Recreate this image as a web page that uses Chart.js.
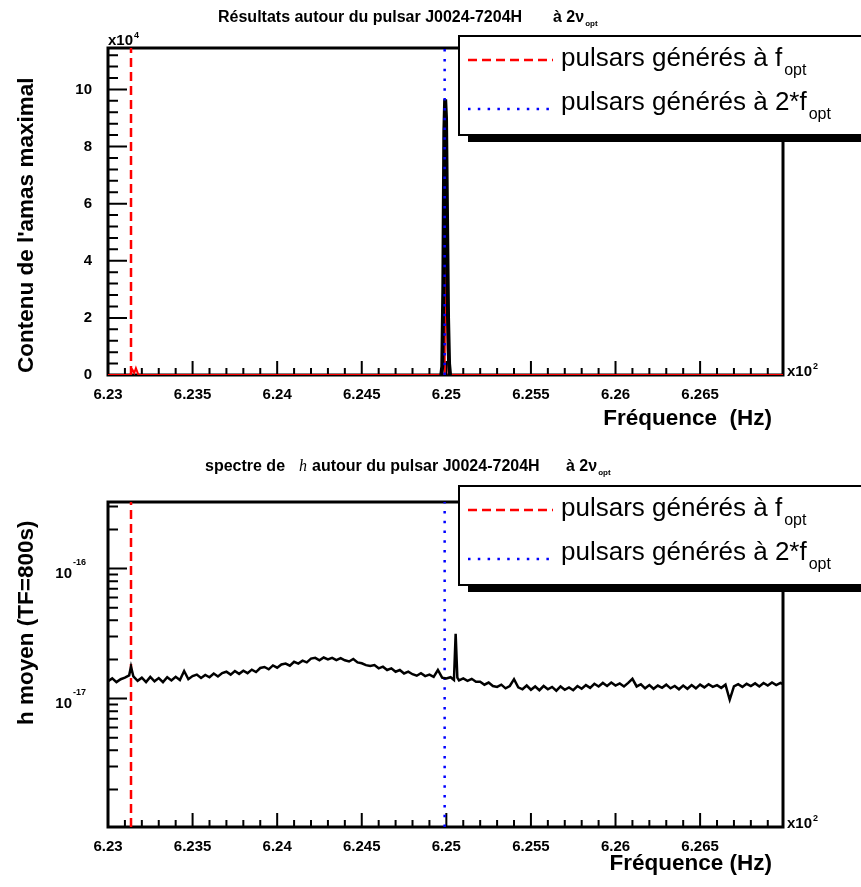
<!DOCTYPE html>
<html>
<head>
<meta charset="utf-8">
<script src="https://cdn.jsdelivr.net/npm/chart.js@4.4.1/dist/chart.umd.min.js"></script>
<style>
html, body { margin: 0; padding: 0; background: #fff; }
#cadre { position: relative; width: 861px; height: 887px; }
canvas { position: absolute; left: 0; }
</style>
</head>
<body>
<div id="cadre">
  <canvas id="haut" width="861" height="440" style="top:0px"></canvas>
  <canvas id="bas" width="861" height="447" style="top:440px"></canvas>
</div>
<script>
// ---- graphe du haut : contenu de l'amas maximal ----
var freqAmasNoir = [624.970, 624.976, 624.982, 624.988, 624.993, 624.998, 625.004, 625.010, 625.016, 625.022];
var amasNoir     = [0, 3000, 30000, 85000, 96500, 90000, 55000, 20000, 4000, 0];
var freqAmasRouge = [623.000, 623.130, 623.145, 623.155, 623.165, 623.180, 624.990, 624.996, 625.002, 625.008, 625.014, 626.990];
var amasRouge     = [0, 0, 1800, 700, 2400, 0, 0, 58000, 40000, 9000, 0, 0];

// ---- graphe du bas : h moyen (TF=800s), en unités de 1e-17 ----
var freqSpectre = [
  623.000, 623.025, 623.050, 623.075, 623.100, 623.125, 623.136, 623.150, 623.175,
  623.200, 623.225, 623.250, 623.275, 623.300, 623.325, 623.350, 623.375, 623.400, 623.425, 623.450, 623.475,
  623.500, 623.525, 623.550, 623.575, 623.600, 623.625, 623.650, 623.675, 623.700, 623.725,
  623.750, 623.775, 623.800, 623.825, 623.850, 623.875, 623.900, 623.925, 623.950, 623.975,
  624.000, 624.025, 624.050, 624.075, 624.100, 624.125, 624.150, 624.175, 624.200, 624.225,
  624.250, 624.275, 624.300, 624.325, 624.350, 624.375, 624.400, 624.425, 624.450, 624.475,
  624.500, 624.525, 624.550, 624.575, 624.600, 624.625, 624.650, 624.675, 624.700, 624.725,
  624.750, 624.775, 624.800, 624.825, 624.850, 624.875, 624.900, 624.925, 624.950, 624.975,
  625.000, 625.025, 625.045, 625.055, 625.065, 625.075, 625.100, 625.125, 625.150, 625.175,
  625.200, 625.225, 625.250, 625.275, 625.300, 625.325, 625.350, 625.375, 625.400, 625.425, 625.450, 625.475,
  625.500, 625.525, 625.550, 625.575, 625.600, 625.625, 625.650, 625.675, 625.700, 625.725,
  625.750, 625.775, 625.800, 625.825, 625.850, 625.875, 625.900, 625.925, 625.950, 625.975,
  626.000, 626.025, 626.050, 626.075, 626.100, 626.125, 626.150, 626.175, 626.200, 626.225,
  626.250, 626.275, 626.300, 626.325, 626.350, 626.375, 626.400, 626.425, 626.450, 626.475,
  626.500, 626.525, 626.550, 626.575, 626.600, 626.625, 626.650, 626.675, 626.700, 626.725,
  626.750, 626.775, 626.800, 626.825, 626.850, 626.875, 626.900, 626.925, 626.950, 626.975, 626.990
];
var hMoyen = [
  1.36, 1.43, 1.34, 1.41, 1.45, 1.51, 1.76, 1.48, 1.37,
  1.45, 1.34, 1.47, 1.36, 1.44, 1.34, 1.46, 1.38, 1.47, 1.39, 1.63, 1.41,
  1.49, 1.53, 1.44, 1.52, 1.46, 1.56, 1.48, 1.57, 1.61, 1.53,
  1.63, 1.55, 1.64, 1.57, 1.67, 1.60, 1.72, 1.75, 1.68, 1.80,
  1.73, 1.83, 1.86, 1.79, 1.92, 1.86, 1.96, 1.90, 2.03, 2.06,
  1.97, 2.07, 2.00, 2.06, 1.98, 2.05, 1.97, 1.93, 2.02, 1.90,
  1.87, 1.81, 1.78, 1.81, 1.71, 1.76, 1.66, 1.71, 1.61, 1.66,
  1.56, 1.61, 1.54, 1.50, 1.57, 1.49, 1.53, 1.47, 1.66, 1.45,
  1.43, 1.46, 1.39, 3.15, 1.45, 1.38, 1.43, 1.37, 1.42, 1.35,
  1.35, 1.28, 1.33, 1.25, 1.23, 1.28, 1.20, 1.25, 1.41, 1.22, 1.18, 1.26,
  1.17, 1.24, 1.16, 1.25, 1.18, 1.23, 1.15, 1.24, 1.17, 1.22,
  1.16, 1.25, 1.19, 1.27, 1.21, 1.30, 1.24, 1.32, 1.25, 1.33,
  1.26, 1.31, 1.24, 1.32, 1.42, 1.24, 1.29, 1.20, 1.27, 1.19,
  1.26, 1.21, 1.28, 1.20, 1.25, 1.18, 1.26, 1.19, 1.27, 1.20,
  1.28, 1.22, 1.29, 1.23, 1.27, 1.21, 1.28, 0.98, 1.24, 1.29,
  1.23, 1.30, 1.25, 1.31, 1.24, 1.32, 1.26, 1.33, 1.27, 1.32, 1.29
];

// lignes verticales : f_opt (rouge) et 2*f_opt (bleu)
var freqLignes = [623.136, 624.990];

// graduations
var ticksX = [623.0, 623.5, 624.0, 624.5, 625.0, 625.5, 626.0, 626.5];
var etiquettesX = ['6.23', '6.235', '6.24', '6.245', '6.25', '6.255', '6.26', '6.265'];
var ticksYHaut = [0, 20000, 40000, 60000, 80000, 100000];
var etiquettesYHaut = ['0', '2', '4', '6', '8', '10'];
var ticksYBas = [1e-17, 1e-16];
var exposantsYBas = ['-17', '-16'];

var legendeTextes = ['pulsars générés à f', 'pulsars générés à 2*f'];

var policeSans = "'Liberation Sans', Arial, Helvetica, sans-serif";
var xMin = 623.0, xMax = 626.99;
var yMaxHaut = 114500;
var yMinBas = 1.03e-18, yMaxBas = 3.25e-16;

function points(xs, ys, facteur) {
  return xs.map(function(x, i) { return {x: x, y: ys[i] * (facteur || 1)}; });
}
function verticale(f, y0, y1) {
  return [{x: f, y: y0}, {x: f, y: y1}];
}
function texte(ctx, str, x, y, taille, gras, align) {
  ctx.font = (gras ? 'bold ' : '') + taille + 'px ' + policeSans;
  ctx.textAlign = align || 'left';
  ctx.textBaseline = 'alphabetic';
  ctx.fillText(str, x, y);
  return ctx.measureText(str).width;
}

function echelleX(hauteur) {
  return {
    type: 'linear', min: xMin, max: xMax,
    grid: {display: false}, border: {display: false},
    afterBuildTicks: function(s) { s.ticks = ticksX.map(function(v) { return {value: v}; }); },
    ticks: {
      autoSkip: false, maxRotation: 0, padding: 3, color: '#000',
      font: {family: policeSans, size: 15, weight: 'bold'},
      callback: function(v, i) { return etiquettesX[i]; }
    },
    afterFit: function(s) { s.height = hauteur; }
  };
}

// graduations internes de l'axe x (à la ROOT)
function ticksInternesX(ctx, sx, bas) {
  ctx.beginPath();
  for (var k = 0; k <= 40; k++) {
    var f = 623 + k * 0.1;
    if (f > xMax) break;
    var px = sx.getPixelForValue(f);
    var long = (k % 5 === 0) ? 14 : 7;
    ctx.moveTo(px, bas);
    ctx.lineTo(px, bas - long);
  }
  ctx.stroke();
}

function dessinerLegende(chart, haut, dsRouge, dsBleu) {
  var ctx = chart.ctx;
  ctx.save();
  ctx.fillStyle = '#000';
  ctx.fillRect(468, haut + 6, 400, 101);
  ctx.fillStyle = '#fff';
  ctx.fillRect(458, haut, 410, 101);
  ctx.strokeStyle = '#000';
  ctx.lineWidth = 2;
  ctx.strokeRect(459, haut + 1, 410, 99);
  var lignes = [[dsRouge, haut + 25, haut + 31], [dsBleu, haut + 74, haut + 75]];
  lignes.forEach(function(l, i) {
    var ds = l[0];
    ctx.strokeStyle = ds.borderColor;
    ctx.lineWidth = ds.borderWidth;
    ctx.setLineDash(ds.borderDash);
    ctx.beginPath();
    ctx.moveTo(468, l[1]);
    ctx.lineTo(553, l[1]);
    ctx.stroke();
    ctx.setLineDash([]);
    ctx.fillStyle = '#000';
    var w = texte(ctx, legendeTextes[i], 561, l[2], 26, false);
    texte(ctx, 'opt', 561 + w + 2, l[2] + 9, 16, false);
  });
  ctx.restore();
}

function titreAxeY(ctx, str, x, y) {
  ctx.save();
  ctx.translate(x, y);
  ctx.rotate(-Math.PI / 2);
  texte(ctx, str, 0, 0, 22.5, true);
  ctx.restore();
}

// ---------------- graphe du haut ----------------
var pluginHaut = {
  id: 'cadreHaut',
  beforeDatasetsDraw: function(chart) {
    var ctx = chart.ctx, a = chart.chartArea, sy = chart.scales.y;
    ctx.save();
    ctx.strokeStyle = '#000';
    ctx.lineWidth = 2;
    ticksInternesX(ctx, chart.scales.x, a.bottom);
    ctx.beginPath();
    for (var k = 0; k * 4000 <= yMaxHaut; k++) {
      var py = sy.getPixelForValue(k * 4000);
      ctx.moveTo(a.left, py);
      ctx.lineTo(a.left + ((k % 5 === 0) ? 19 : 10), py);
    }
    ctx.stroke();
    ctx.lineWidth = 3;
    ctx.strokeRect(a.left, a.top, a.right - a.left, a.bottom - a.top);
    ctx.restore();
  },
  afterDraw: function(chart) {
    var ctx = chart.ctx, a = chart.chartArea;
    ctx.save();
    ctx.fillStyle = '#000';
    texte(ctx, 'Résultats autour du pulsar J0024-7204H', 218, 22, 16, true);
    var w = texte(ctx, 'à 2ν', 553, 22, 16, true);
    texte(ctx, 'opt', 553 + w + 1, 26, 8, true);
    var wx = texte(ctx, 'x10', a.left, a.top - 3, 15, true);
    texte(ctx, '4', a.left + wx + 1, a.top - 10, 9, true);
    wx = texte(ctx, 'x10', a.right + 4, a.bottom + 1, 15, true);
    texte(ctx, '2', a.right + 4 + wx + 1, a.bottom - 6, 9, true);
    texte(ctx, 'Fréquence  (Hz)', 772, 425, 22.5, true, 'right');
    titreAxeY(ctx, "Contenu de l'amas maximal", 33, 373);
    ctx.restore();
    dessinerLegende(chart, 35, chart.data.datasets[2], chart.data.datasets[0]);
  }
};

new Chart(document.getElementById('haut'), {
  type: 'scatter',
  data: {
    datasets: [
      {label: '2*f_opt', data: verticale(freqLignes[1], 0, yMaxHaut), borderColor: '#0000ff', borderWidth: 2.5,
       borderDash: [2.5, 7.3], showLine: true, pointRadius: 0},
      {label: 'amas', data: points(freqAmasNoir, amasNoir), borderColor: '#000000', borderWidth: 4,
       showLine: true, pointRadius: 0},
      {label: 'f_opt', data: verticale(freqLignes[0], 0, yMaxHaut), borderColor: '#ff0000', borderWidth: 2.5,
       borderDash: [9, 5], showLine: true, pointRadius: 0},
      {label: 'amas f_opt', data: points(freqAmasRouge, amasRouge), borderColor: '#ff0000', borderWidth: 2,
       showLine: true, pointRadius: 0}
    ]
  },
  options: {
    responsive: false, animation: false, devicePixelRatio: 1,
    layout: {padding: {top: 48, right: 78, left: 0, bottom: 0}},
    plugins: {legend: {display: false}, tooltip: {enabled: false}},
    scales: {
      x: echelleX(65),
      y: {
        type: 'linear', min: 0, max: yMaxHaut,
        grid: {display: false}, border: {display: false},
        afterBuildTicks: function(s) { s.ticks = ticksYHaut.map(function(v) { return {value: v}; }); },
        ticks: {
          autoSkip: false, padding: 8, color: '#000',
          font: {family: policeSans, size: 15, weight: 'bold'},
          callback: function(v, i) { return etiquettesYHaut[i]; }
        },
        afterFit: function(s) { s.width = 108; }
      }
    }
  },
  plugins: [pluginHaut]
});

// ---------------- graphe du bas ----------------
var pluginBas = {
  id: 'cadreBas',
  beforeDatasetsDraw: function(chart) {
    var ctx = chart.ctx, a = chart.chartArea, sy = chart.scales.y;
    ctx.save();
    ctx.strokeStyle = '#000';
    ctx.lineWidth = 2;
    ticksInternesX(ctx, chart.scales.x, a.bottom);
    ctx.beginPath();
    [-18, -17, -16].forEach(function(e) {
      for (var m = 1; m <= 9; m++) {
        var v = m * Math.pow(10, e);
        if (v < yMinBas || v > yMaxBas) continue;
        var py = sy.getPixelForValue(v);
        ctx.moveTo(a.left, py);
        ctx.lineTo(a.left + (m === 1 ? 19 : 10), py);
      }
    });
    ctx.stroke();
    ctx.lineWidth = 3;
    ctx.strokeRect(a.left, a.top, a.right - a.left, a.bottom - a.top);
    ctx.restore();
  },
  afterDraw: function(chart) {
    var ctx = chart.ctx, a = chart.chartArea, sy = chart.scales.y;
    ctx.save();
    ctx.fillStyle = '#000';
    // étiquettes logarithmiques 10^n
    ticksYBas.forEach(function(v, i) {
      var py = sy.getPixelForValue(v);
      texte(ctx, '10', 72, py + 9, 15, true, 'right');
      texte(ctx, exposantsYBas[i], 73, py - 4, 9, true);
    });
    texte(ctx, 'spectre de', 205, 31, 16, true);
    ctx.font = 'italic 16px "Liberation Serif", "DejaVu Serif", serif';
    ctx.textAlign = 'left';
    ctx.fillText('h', 299, 31);
    texte(ctx, 'autour du pulsar J0024-7204H', 312, 31, 16, true);
    var w = texte(ctx, 'à 2ν', 566, 31, 16, true);
    texte(ctx, 'opt', 566 + w + 1, 35, 8, true);
    var wx = texte(ctx, 'x10', a.right + 4, a.bottom + 1, 15, true);
    texte(ctx, '2', a.right + 4 + wx + 1, a.bottom - 6, 9, true);
    texte(ctx, 'Fréquence (Hz)', 772, 430, 22.5, true, 'right');
    titreAxeY(ctx, 'h moyen (TF=800s)', 33, 285);
    ctx.restore();
    dessinerLegende(chart, 45, chart.data.datasets[2], chart.data.datasets[1]);
  }
};

new Chart(document.getElementById('bas'), {
  type: 'scatter',
  data: {
    datasets: [
      {label: 'h moyen', data: points(freqSpectre, hMoyen, 1e-17), borderColor: '#000000', borderWidth: 2.5,
       showLine: true, pointRadius: 0},
      {label: '2*f_opt', data: verticale(freqLignes[1], yMinBas, yMaxBas), borderColor: '#0000ff', borderWidth: 2.5,
       borderDash: [2.5, 7.3], showLine: true, pointRadius: 0},
      {label: 'f_opt', data: verticale(freqLignes[0], yMinBas, yMaxBas), borderColor: '#ff0000', borderWidth: 2.5,
       borderDash: [9, 5], showLine: true, pointRadius: 0}
    ]
  },
  options: {
    responsive: false, animation: false, devicePixelRatio: 1,
    layout: {padding: {top: 62, right: 78, left: 0, bottom: 0}},
    plugins: {legend: {display: false}, tooltip: {enabled: false}},
    scales: {
      x: echelleX(60),
      y: {
        type: 'logarithmic', min: yMinBas, max: yMaxBas,
        grid: {display: false}, border: {display: false},
        afterBuildTicks: function(s) { s.ticks = ticksYBas.map(function(v) { return {value: v}; }); },
        ticks: {display: false},
        afterFit: function(s) { s.width = 108; }
      }
    }
  },
  plugins: [pluginBas]
});
</script>
</body>
</html>
